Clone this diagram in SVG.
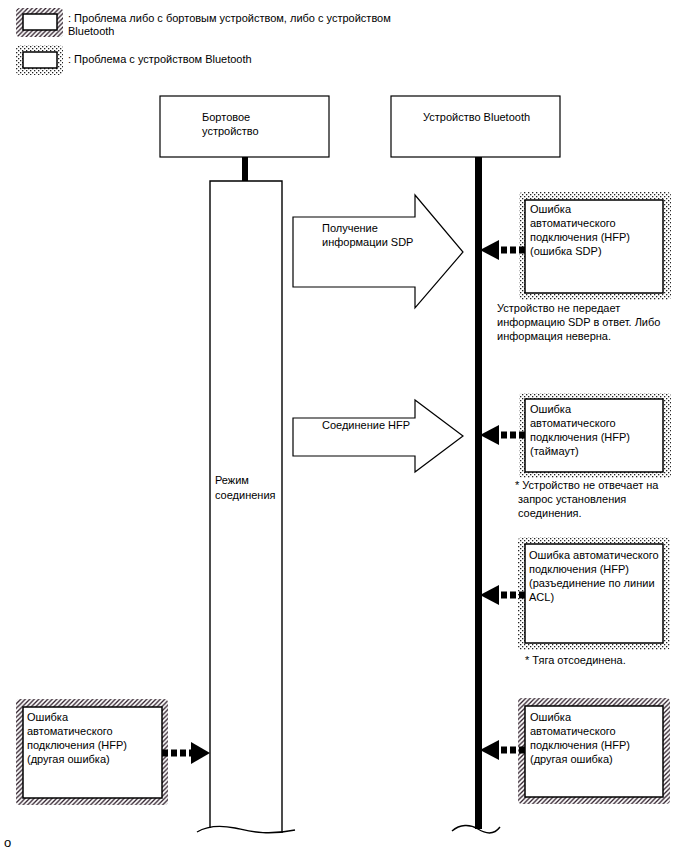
<svg xmlns="http://www.w3.org/2000/svg" width="688" height="852" viewBox="0 0 688 852">
<defs>
<pattern id="hatch" patternUnits="userSpaceOnUse" width="4.5" height="4.5">
<rect width="4.5" height="4.5" fill="#fff"/>
<path d="M-1,1 L1,-1 M0,4.5 L4.5,0 M3.5,5.5 L5.5,3.5" stroke="#2e1e2a" stroke-width="1.3"/>
</pattern>
<pattern id="dots" patternUnits="userSpaceOnUse" width="4" height="4">
<rect width="4" height="4" fill="#fff"/>
<rect x="0" y="0" width="1.3" height="1.3" fill="#222"/>
<rect x="2" y="2" width="1.3" height="1.3" fill="#222"/>
</pattern>
</defs>
<style>
text{font-family:"Liberation Sans",Arial,sans-serif;font-size:11px;fill:#000}
.inner{fill:#fff;stroke:#000;stroke-width:1.5}
.box{fill:#fff;stroke:#000;stroke-width:1.2}
.big{fill:#fff;stroke:#000;stroke-width:1.2}
.dash{stroke:#000;stroke-width:7;stroke-dasharray:6 3;fill:none}
.head{fill:#000}
.wave{fill:none;stroke:#000;stroke-width:1.4}
</style>
<rect width="688" height="852" fill="#fff"/>

<g id="legend">
<rect x="16" y="8" width="47" height="29" rx="4" fill="url(#hatch)"/>
<rect x="23" y="14" width="34" height="16" class="inner"/>
<text x="68" y="22">: Проблема либо с бортовым устройством, либо с устройством</text>
<text x="68" y="35">Bluetooth</text>
<rect x="16" y="45" width="47" height="30" rx="4" fill="url(#dots)"/>
<rect x="23" y="52" width="34" height="16" class="inner"/>
<text x="68" y="63">: Проблема с устройством Bluetooth</text>
</g>

<g id="onboard">
<rect x="160" y="96" width="169" height="61" class="box"/>
<text x="202" y="121">Бортовое</text>
<text x="202" y="135">устройство</text>
</g>

<g id="bluetooth">
<rect x="391" y="96" width="169" height="61" class="box"/>
<text x="423" y="121">Устройство Bluetooth</text>
</g>

<g id="mode">
<path d="M210,828 V181 H282 V833" fill="#fff" stroke="#000" stroke-width="1.4"/>
<path class="wave" d="M197,832 C207,826 220,825 235,828 S265,836 295,830"/>
<text x="215" y="484">Режим</text>
<text x="215" y="499">соединения</text>
</g>

<g id="lifeline">
<line x1="478.5" y1="157" x2="478.5" y2="829" stroke="#000" stroke-width="7"/>
<path class="wave" d="M452,831 C460,824 470,824 478,829 S494,835 500,827"/>
</g>

<g id="sdp">
<polygon class="big" points="293,217 415,217 415,195 463,252 415,308 415,287 293,287"/>
<text x="322" y="232">Получение</text>
<text x="322" y="246">информации SDP</text>
</g>

<g id="hfp">
<polygon class="big" points="293,418 415,418 415,400 463,436 415,472 415,456 293,456"/>
<text x="322" y="429">Соединение HFP</text>
</g>

<g id="err-sdp">
<rect x="519" y="192" width="152" height="108" rx="4" fill="url(#dots)"/>
<rect x="525" y="200" width="138" height="93" class="inner"/>
<text x="530" y="213">Ошибка</text>
<text x="530" y="227">автоматического</text>
<text x="530" y="241">подключения (HFP)</text>
<text x="530" y="255">(ошибка SDP)</text>
<text x="497" y="312">Устройство не передает</text>
<text x="497" y="326">информацию SDP в ответ. Либо</text>
<text x="497" y="340">информация неверна.</text>
</g>

<g id="err-timeout">
<rect x="519" y="393" width="152" height="85" rx="4" fill="url(#dots)"/>
<rect x="525" y="399" width="138" height="73" class="inner"/>
<text x="530" y="413">Ошибка</text>
<text x="530" y="427">автоматического</text>
<text x="530" y="441">подключения (HFP)</text>
<text x="530" y="455">(таймаут)</text>
<text x="515" y="489">* Устройство не отвечает на</text>
<text x="518" y="503">запрос установления</text>
<text x="518" y="517">соединения.</text>
</g>

<g id="err-acl">
<rect x="518" y="537" width="152" height="113" rx="4" fill="url(#dots)"/>
<rect x="525" y="544" width="138" height="99" class="inner"/>
<text x="529" y="559">Ошибка автоматического</text>
<text x="529" y="573">подключения (HFP)</text>
<text x="529" y="587">(разъединение по линии</text>
<text x="529" y="601">ACL)</text>
<text x="525" y="664">* Тяга отсоединена.</text>
</g>

<g id="err-other-bt">
<rect x="518" y="698" width="152" height="106" rx="4" fill="url(#hatch)"/>
<rect x="525" y="706" width="138" height="91" class="inner"/>
<text x="530" y="721">Ошибка</text>
<text x="530" y="735">автоматического</text>
<text x="530" y="749">подключения (HFP)</text>
<text x="530" y="763">(другая ошибка)</text>
</g>

<g id="err-other-onboard">
<rect x="16" y="699" width="152" height="106" rx="4" fill="url(#hatch)"/>
<rect x="23" y="707" width="139" height="91" class="inner"/>
<text x="27" y="721">Ошибка</text>
<text x="27" y="735">автоматического</text>
<text x="27" y="749">подключения (HFP)</text>
<text x="27" y="763">(другая ошибка)</text>
</g>

<g id="connectors">
<rect x="242" y="157" width="6" height="24" fill="#000"/>
<line class="dash" x1="525" y1="250" x2="497" y2="250"/>
<polygon class="head" points="480,250 499,240 499,260"/>
<line class="dash" x1="525" y1="435" x2="497" y2="435"/>
<polygon class="head" points="480,435 499,425 499,445"/>
<line class="dash" x1="525" y1="595" x2="497" y2="595"/>
<polygon class="head" points="480,595 499,585 499,605"/>
<line class="dash" x1="525" y1="750" x2="497" y2="750"/>
<polygon class="head" points="480,750 499,740 499,760"/>
<line class="dash" x1="162" y1="753" x2="192" y2="753"/>
<polygon class="head" points="210,753 191,742 191,764"/>
</g>

<text x="4" y="847" style="font-size:13px">о</text>
</svg>
